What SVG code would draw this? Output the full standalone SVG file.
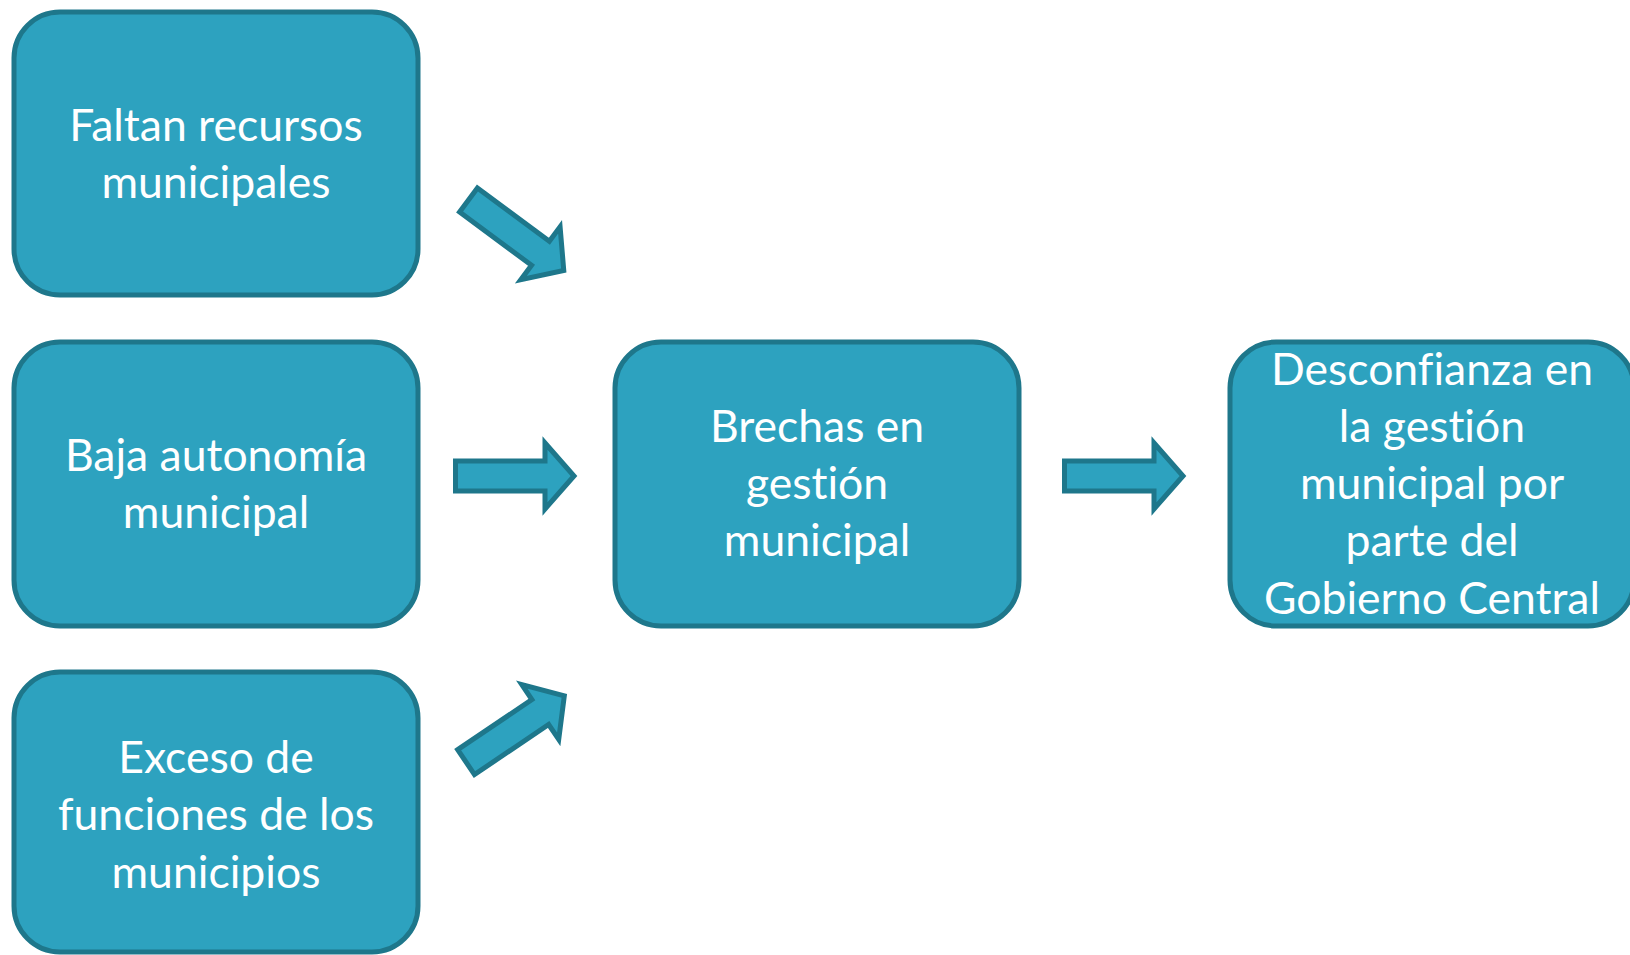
<svg xmlns="http://www.w3.org/2000/svg" width="1630" height="955" viewBox="0 0 1630 955">
<style>
.box{fill:#2DA2BF;stroke:#1E778B;stroke-width:5}
.arr{fill:#2DA2BF;stroke:#1E778B;stroke-width:5;stroke-linejoin:miter}
.t{font-family:Lato,"Open Sans",sans-serif;font-size:44.5px;fill:#ffffff;text-anchor:middle;font-variant-ligatures:none;font-feature-settings:"liga" 0,"clig" 0}
</style>
<defs>
<path id="arrow" class="arr" d="M2.5,-15 H92 V-33 L121,0 L92,33 V15 H2.5 Z"/>
</defs>
<rect width="1630" height="955" fill="#ffffff"/>
<g id="node-faltan">
<rect class="box" x="14" y="12" width="404" height="283" rx="46"/>
<text class="t"><tspan x="216" y="141">Faltan recursos</tspan><tspan x="216" y="198">municipales</tspan></text>
</g>
<g id="node-baja">
<rect class="box" x="14" y="342" width="404" height="284" rx="46"/>
<text class="t"><tspan x="216" y="471">Baja autonomía</tspan><tspan x="216" y="528">municipal</tspan></text>
</g>
<g id="node-exceso">
<rect class="box" x="14" y="672" width="404" height="280" rx="46"/>
<text class="t"><tspan x="216" y="773">Exceso de</tspan><tspan x="216" y="830">funciones de los</tspan><tspan x="216" y="888">municipios</tspan></text>
</g>
<g id="node-brechas">
<rect class="box" x="615" y="342" width="404" height="284" rx="46"/>
<text class="t"><tspan x="817" y="442">Brechas en</tspan><tspan x="817" y="499">gestión</tspan><tspan x="817" y="556">municipal</tspan></text>
</g>
<g id="node-desconfianza">
<rect class="box" x="1230" y="342" width="404" height="284" rx="46"/>
<text class="t"><tspan x="1432" y="385">Desconfianza en</tspan><tspan x="1432" y="442">la gestión</tspan><tspan x="1432" y="499">municipal por</tspan><tspan x="1432" y="556">parte del</tspan><tspan x="1432" y="614">Gobierno Central</tspan></text>
</g>
<g id="connectors">
<use href="#arrow" transform="translate(466.5,198.5) rotate(36.5)"/>
<use href="#arrow" transform="translate(453,476)"/>
<use href="#arrow" transform="translate(464,763.5) rotate(-34)"/>
<use href="#arrow" transform="translate(1062,476)"/>
</g>
</svg>
